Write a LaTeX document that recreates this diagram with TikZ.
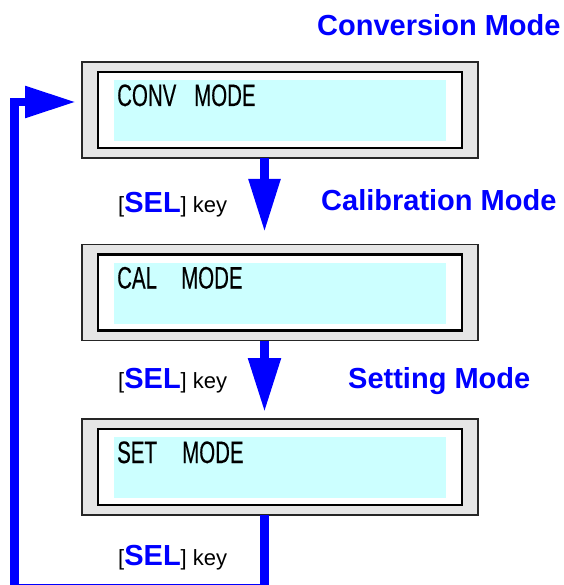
\documentclass[tikz,border=0pt]{standalone}
\usepackage{fontspec}
\setmainfont{Liberation Sans}
\newfontfamily\lcdfont[FakeStretch=0.66,FakeBold=0.3]{Liberation Sans}
\usetikzlibrary{arrows.meta}
\definecolor{lcdcyan}{RGB}{204,255,255}
\definecolor{panelgray}{RGB}{229,229,229}
\definecolor{selblue}{RGB}{0,0,255}
\begin{document}
\begin{tikzpicture}[x=1pt,y=-1pt,
  outerbox/.style={draw=black!85,line width=1.5pt,fill=panelgray,minimum width=396pt,minimum height=96pt,inner sep=0pt,outer sep=0pt},
  innerbox/.style={draw=black,line width=2.5pt,fill=white,minimum width=364pt,minimum height=76pt,inner sep=0pt,outer sep=0pt},
  screen/.style={fill=lcdcyan,minimum width=332pt,minimum height=61pt,inner sep=0pt,outer sep=0pt},
  lcdtext/.style={anchor=base west,inner sep=0pt,font=\lcdfont\fontsize{31}{31}\selectfont},
  modetitle/.style={anchor=base west,inner sep=0pt,text=selblue,font=\bfseries\fontsize{29}{29}\selectfont},
  keylabel/.style={anchor=base west,inner sep=0pt,font=\fontsize{22}{22}\selectfont},
  flow/.style={draw=selblue,line width=8.5pt,line join=miter},
]
\useasboundingbox (0,0) rectangle (563,585);
\clip (0,0) rectangle (563,585);

% titles
\node[modetitle] (t1) at (317,36) {Conversion Mode};
\node[modetitle] (t2) at (321,210) {Calibration Mode};
\node[modetitle] (t3) at (348,388) {Setting Mode};

% box 1
\node[outerbox] (b1) at (280,110) {};
\node[innerbox] (i1) at (280,110) {};
\node[screen] (s1) at (280,110.5) {};
\node[lcdtext] (l1) at (117,106) {\makebox[77pt][l]{CONV}MODE};

% box 2
\node[outerbox] (b2) at (280,292.5) {};
\node[innerbox] (i2) at (280,292.5) {};
\node[screen] (s2) at (280,293) {};
\node[lcdtext] (l2) at (117,288.5) {\makebox[64pt][l]{CAL}MODE};

% box 3
\node[outerbox] (b3) at (280,467) {};
\node[innerbox] (i3) at (280,467) {};
\node[screen] (s3) at (280,467.5) {};
\node[lcdtext] (l3) at (117,463) {\makebox[65pt][l]{SET}MODE};

% key labels
\node[keylabel] (k1) at (118,212) {[{\color{selblue}\bfseries\fontsize{29}{29}\selectfont SEL}] key};
\node[keylabel] (k2) at (118,388) {[{\color{selblue}\bfseries\fontsize{29}{29}\selectfont SEL}] key};
\node[keylabel] (k3) at (118,565) {[{\color{selblue}\bfseries\fontsize{29}{29}\selectfont SEL}] key};

% arrows
\draw[flow,-{Triangle[length=53pt,width=30pt]},shorten >=12.5pt]
  ([xshift=-15.5pt]b1.south) -- ([xshift=-15.5pt]b2.north);
\draw[flow,-{Triangle[length=54pt,width=31pt]},shorten >=7pt]
  ([xshift=-15.5pt]b2.south) -- ([xshift=-15.5pt]b3.north);
\coordinate (loopc) at (14.5,588);
\draw[flow,-{Triangle[length=51pt,width=30pt]},shorten >=6pt]
  ([xshift=-15.5pt]b3.south) |- (loopc) |- ([yshift=8pt]b1.west);
\end{tikzpicture}
\end{document}
